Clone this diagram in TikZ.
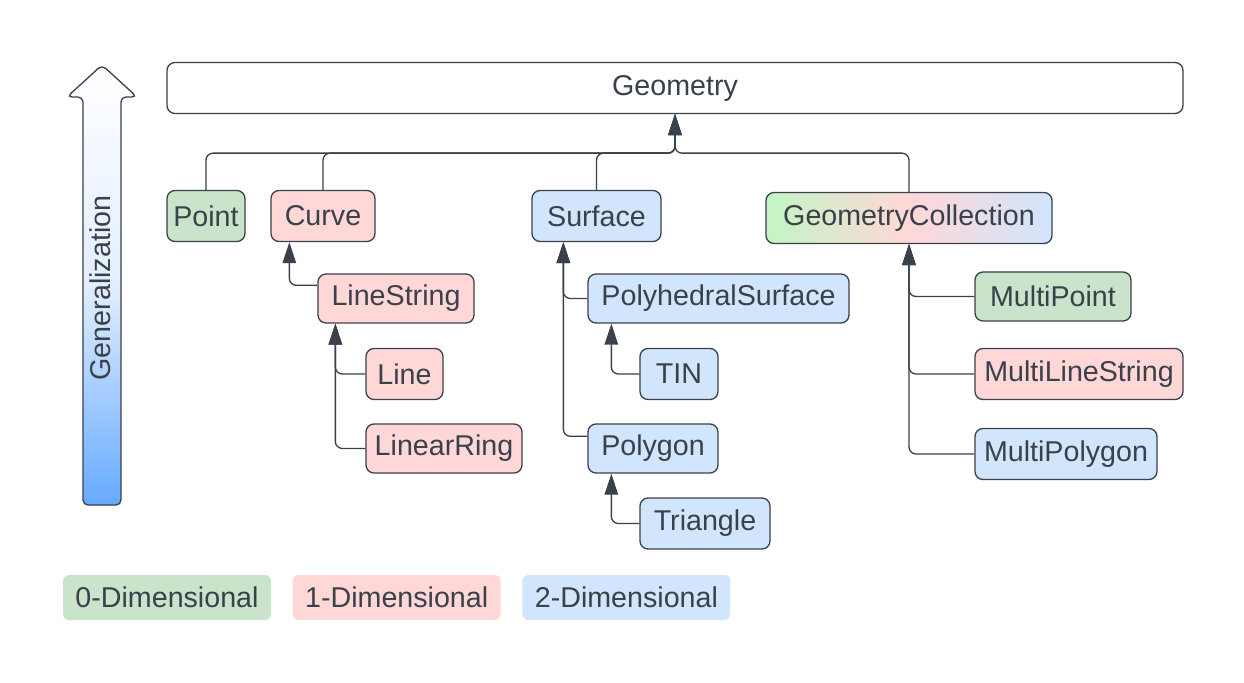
\documentclass[tikz,border=0pt]{standalone}
\usepackage{fontspec}
\setmainfont{Liberation Sans}
\usetikzlibrary{arrows.meta,positioning}

\definecolor{ink}{HTML}{3A414A}
\definecolor{zerofill}{HTML}{C9E4CA}
\definecolor{onefill}{HTML}{FFD7D7}
\definecolor{twofill}{HTML}{D1E5FD}
\definecolor{gcgreen}{HTML}{C3F5C6}
\definecolor{arrowmid}{HTML}{E2EEFF}
\definecolor{arrowblue}{HTML}{66AAFF}

\tikzset{
  box/.style={draw=ink, line width=0.75pt, rounded corners=0.16cm, minimum height=1.02cm,
    inner sep=0pt, text=ink, font=\fontsize{16.3}{19}\selectfont},
  zero/.style={box, fill=zerofill},
  one/.style={box, fill=onefill},
  two/.style={box, fill=twofill},
  key/.style={rounded corners=0.12cm, minimum width=4.16cm, minimum height=0.9cm,
    inner sep=0pt, text=ink, font=\fontsize{16.3}{19}\selectfont},
  conn/.style={draw=ink, line width=0.75pt, rounded corners=0.14cm,
    -{Triangle[width=0.27cm,length=0.42cm]}},
}

\begin{document}
\begin{tikzpicture}
\useasboundingbox (0,0) rectangle (24.88,-13.66);

% generalization arrow
\shade[draw=ink, line width=0.75pt, rounded corners=0.1cm,
  top color=white, bottom color=arrowblue, middle color=arrowmid]
  (1.66,-10.1) -- (1.66,-1.94) -- (1.34,-1.94) -- (2.04,-1.3)
  -- (2.74,-1.94) -- (2.42,-1.94) -- (2.42,-10.1) -- cycle;
\node[rotate=90, text=ink, font=\fontsize{16.3}{19}\selectfont] (general) at (2.0,-5.76) {Generalization};

% root
\node[box, fill=white, minimum width=20.32cm] (geometry) at (13.5,-1.76) {Geometry};

% first level
\node[zero, minimum width=1.56cm] (point) at (4.12,-4.32) {Point};
\node[one, minimum width=2.08cm] (curve) at (6.46,-4.32) {Curve};
\node[two, minimum width=2.58cm] (surface) at (11.93,-4.32) {Surface};
\node[box, minimum width=5.72cm, left color=gcgreen, right color=twofill, middle color=onefill]
  (collection) at (18.18,-4.36) {GeometryCollection};

% curves
\node[one, minimum width=3.12cm, minimum height=0.98cm] (linestring) at (7.92,-5.97) {LineString};
\node[one, minimum width=1.54cm] (line) at (8.09,-7.48) {Line};
\node[one, minimum width=3.12cm, minimum height=0.98cm] (linearring) at (8.88,-8.97) {LinearRing};

% surfaces
\node[two, minimum width=5.22cm, minimum height=0.98cm] (polyhedral) at (14.37,-5.97) {PolyhedralSurface};
\node[two, minimum width=1.56cm] (tin) at (13.58,-7.48) {TIN};
\node[two, minimum width=2.6cm, minimum height=0.98cm] (polygon) at (13.06,-8.97) {Polygon};
\node[two, minimum width=2.6cm] (triangle) at (14.1,-10.47) {Triangle};

% collections
\node[zero, minimum width=3.12cm, minimum height=0.98cm] (multipoint) at (21.06,-5.93) {MultiPoint};
\node[one, minimum width=4.16cm] (multilinestring) at (21.58,-7.48) {MultiLineString};
\node[two, minimum width=3.64cm] (multipolygon) at (21.32,-9.08) {MultiPolygon};

% legend
\node[key, fill=zerofill] (dim0) at (3.34,-11.95) {0-Dimensional};
\node[key, fill=onefill, right=0.42cm of dim0] (dim1) {1-Dimensional};
\node[key, fill=twofill, right=0.42cm of dim1] (dim2) {2-Dimensional};

% connectors
\coordinate (hub) at ([yshift=-0.78cm]geometry.south);
\draw[conn] (point.north) |- (hub) -- (geometry.south);
\draw[conn] (curve.north) |- (hub) -- (geometry.south);
\draw[conn] (surface.north) |- (hub) -- (geometry.south);
\draw[conn] (collection.north) |- (hub) -- (geometry.south);

\draw[conn] ([yshift=-0.24cm]linestring.north west) -| ([xshift=0.38cm]curve.south west);
\draw[conn] (line.west) -| ([xshift=0.36cm]linestring.south west);
\draw[conn] (linearring.west) -| ([xshift=0.36cm]linestring.south west);

\draw[conn] (polyhedral.west) -| ([xshift=0.64cm]surface.south west);
\draw[conn] ([yshift=-0.26cm]polygon.north west) -| ([xshift=0.64cm]surface.south west);
\draw[conn] (tin.west) -| ([xshift=0.48cm]polyhedral.south west);
\draw[conn] (triangle.west) -| ([xshift=0.48cm]polygon.south west);

\draw[conn] (multipoint.west) -| (collection.south);
\draw[conn] (multilinestring.west) -| (collection.south);
\draw[conn] (multipolygon.west) -| (collection.south);
\end{tikzpicture}
\end{document}
